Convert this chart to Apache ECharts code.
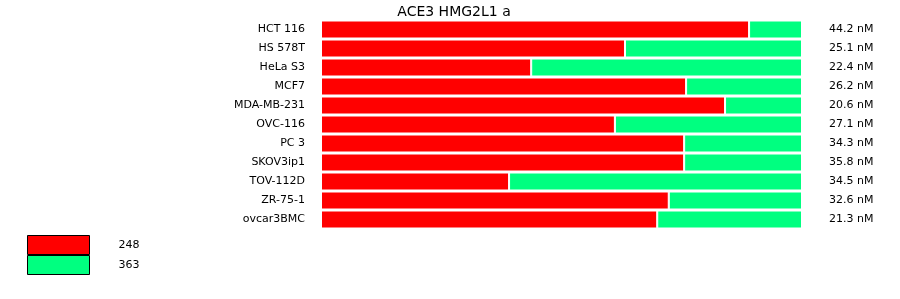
<!DOCTYPE html>
<html><head><meta charset="utf-8">
<script src="https://cdn.jsdelivr.net/npm/echarts@6/dist/echarts.min.js"></script>
<style>html,body{margin:0;padding:0;background:#fff}#c{width:900px;height:299px}</style>
</head><body><div id="c"></div>
<script>
const categories = ['HCT 116','HS 578T','HeLa S3','MCF7','MDA-MB-231','OVC-116','PC 3','SKOV3ip1','TOV-112D','ZR-75-1','ovcar3BMC'];
const redValues = [89.0, 63.2, 43.7, 75.9, 84.0, 61.1, 75.5, 75.5, 39.1, 72.3, 69.9];
const greenValues = [11.0, 36.8, 56.3, 24.1, 16.0, 38.9, 24.5, 24.5, 60.9, 27.7, 30.1];
const rightLabels = ['44.2 nM','25.1 nM','22.4 nM','26.2 nM','20.6 nM','27.1 nM','34.3 nM','35.8 nM','34.5 nM','32.6 nM','21.3 nM'];
const seriesNames = ['248','363'];
const titleText = 'ACE3 HMG2L1 a';

const font = 'DejaVu Sans';
const chart = echarts.init(document.getElementById('c'));
chart.setOption({
  animation: false,
  title: { text: titleText, left: 449, textAlign: 'center', top: 0,
    textStyle: { fontFamily: font, fontSize: 14, fontWeight: 'normal', color: '#000' } },
  grid: { left: 321, width: 481, top: 20, height: 209 },
  xAxis: { type: 'value', min: 0, max: 100, show: false },
  yAxis: [
    { type: 'category', data: categories, inverse: true,
      axisLine: { show: false }, axisTick: { show: false },
      axisLabel: { margin: 16, fontFamily: font, fontSize: 11, color: '#000' } },
    { type: 'category', data: rightLabels, inverse: true, position: 'right',
      axisLine: { show: false }, axisTick: { show: false },
      axisLabel: { margin: 27, fontFamily: font, fontSize: 11, color: '#000' } }
  ],
  legend: { orient: 'vertical', left: 22, top: 230, itemWidth: 62, itemHeight: 19, itemGap: 0,
    icon: 'rect',
    itemStyle: { borderColor: '#000', borderWidth: 1 },
    textStyle: { fontFamily: font, fontSize: 11, color: '#000', padding: [0,0,0,24] },
    data: seriesNames },
  series: [
    { name: seriesNames[0], type: 'bar', stack: 's', data: redValues, barWidth: 18,
      itemStyle: { color: '#ff0000', borderColor: '#fff', borderWidth: 1 } },
    { name: seriesNames[1], type: 'bar', stack: 's', data: greenValues, barWidth: 18,
      itemStyle: { color: '#00ff80', borderColor: '#fff', borderWidth: 1 } }
  ]
});
</script></body></html>
